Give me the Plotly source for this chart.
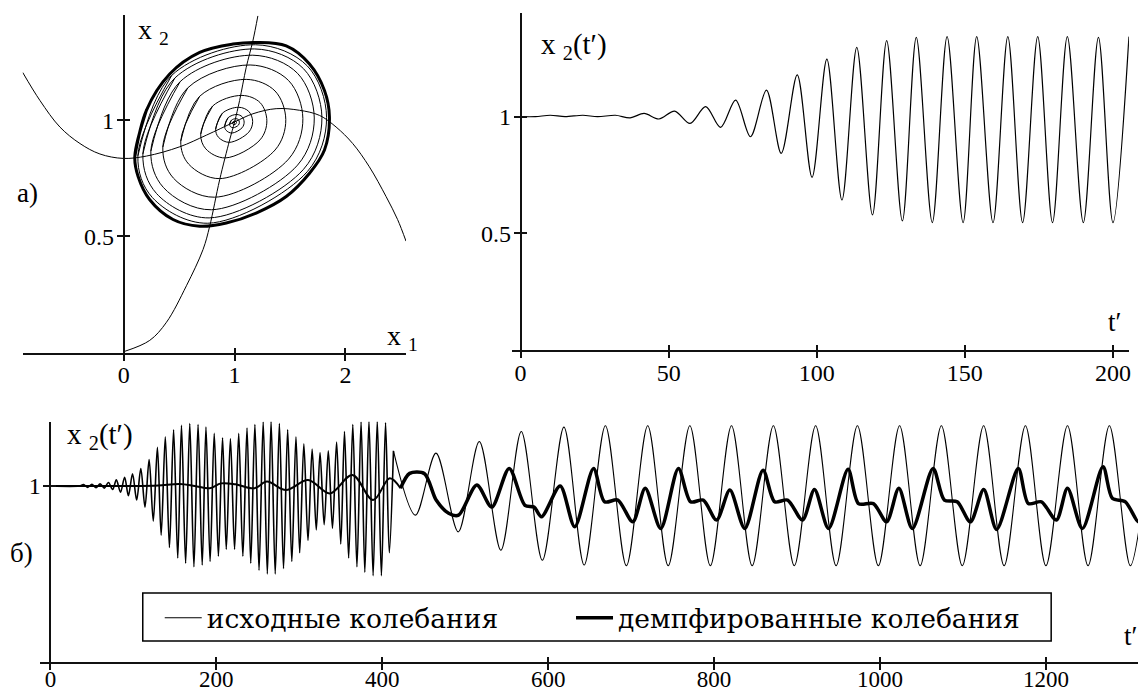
import plotly.graph_objects as go

W, H = 1146, 692
OX, OY = 8, 8   # page body margin in the browser

# ---------------- panel a): phase plane ----------------
null1_x1 = [-0.913, -0.757, -0.577, -0.396, -0.216, -0.006, 0.204, 0.505, 0.745, 1.0, 1.165,
            1.375, 1.586, 1.766, 1.916, 2.066, 2.216, 2.367, 2.471, 2.547]
null1_x2 = [1.206, 1.085, 0.971, 0.9, 0.855, 0.836, 0.846, 0.886, 0.936, 0.993, 1.028,
            1.05, 1.043, 1.021, 0.971, 0.9, 0.8, 0.672, 0.573, 0.48]
null2_x1 = [0.009, 0.234, 0.385, 0.565, 0.715, 0.775, 0.865, 0.955, 1.0, 1.045, 1.105, 1.165, 1.21]
null2_x2 = [0.006, 0.053, 0.131, 0.288, 0.444, 0.544, 0.744, 0.915, 0.993, 1.085, 1.228, 1.342, 1.449]

# inner turns of the trajectory (each turn: left, upper-left, top, upper-right, right,
# lower-right, bottom, lower-left, then back through left and upper-left)
spiral_x1 = [0.982, 0.988, 1.004, 1.014, 1.017, 1.014, 0.995, 0.985, 0.982, 0.988, None,
             0.955, 0.971, 1.010, 1.034, 1.043, 1.034, 0.988, 0.962, 0.955, 0.971, None,
             0.91, 0.941, 1.02, 1.068, 1.086, 1.068, 0.975, 0.923, 0.91, 0.941, None,
             0.829, 0.889, 1.037, 1.128, 1.163, 1.128, 0.953, 0.854, 0.829, 0.889, None,
             0.694, 0.801, 1.066, 1.23, 1.291, 1.23, 0.915, 0.740, 0.694, 0.801, None,
             0.514, 0.684, 1.105, 1.365, 1.462, 1.365, 0.865, 0.586, 0.514, 0.684, None,
             0.352, 0.578, 1.14, 1.487, 1.616, 1.487, 0.82, 0.448, 0.352, 0.578, None,
             0.244, 0.508, 1.164, 1.568, 1.719, 1.568, 0.79, 0.357, 0.244, 0.508, None,
             0.172, 0.461, 1.179, 1.622, 1.788, 1.622, 0.77, 0.295, 0.172, 0.461, None,
             0.127, 0.432, 1.189, 1.656, 1.83, 1.656, 0.758, 0.257, 0.127, 0.432]
spiral_x2 = [0.987, 0.994, 0.997, 0.995, 0.99, 0.986, 0.981, 0.983, 0.987, 0.994, None,
             0.983, 1.0, 1.007, 1.003, 0.991, 0.979, 0.968, 0.973, 0.983, 1.0, None,
             0.975, 1.011, 1.025, 1.015, 0.992, 0.968, 0.945, 0.957, 0.975, 1.011, None,
             0.962, 1.03, 1.056, 1.038, 0.995, 0.949, 0.905, 0.927, 0.962, 1.03, None,
             0.94, 1.061, 1.107, 1.076, 0.998, 0.916, 0.838, 0.877, 0.94, 1.061, None,
             0.911, 1.103, 1.176, 1.126, 1.003, 0.872, 0.749, 0.811, 0.911, 1.103, None,
             0.884, 1.14, 1.238, 1.171, 1.007, 0.833, 0.669, 0.751, 0.884, 1.14, None,
             0.867, 1.166, 1.28, 1.202, 1.01, 0.807, 0.615, 0.711, 0.867, 1.166, None,
             0.855, 1.182, 1.307, 1.222, 1.012, 0.789, 0.58, 0.685, 0.855, 1.182, None,
             0.847, 1.193, 1.325, 1.234, 1.013, 0.779, 0.557, 0.668, 0.847, 1.193]

limit_x1 = [0.099, 0.204, 0.414, 0.685, 0.985, 1.195, 1.466, 1.676, 1.811, 1.856,
            1.811, 1.676, 1.466, 1.195, 0.925, 0.685, 0.444, 0.234, 0.129, 0.099, 0.204]
limit_x2 = [0.843, 1.043, 1.199, 1.292, 1.328, 1.335, 1.32, 1.242, 1.128, 1.014,
            0.872, 0.772, 0.672, 0.601, 0.558, 0.544, 0.573, 0.658, 0.758, 0.843, 1.043]

# ---------------- top right: x2(t') ----------------
tr_t = [0, 5, 10, 15, 21, 26, 32, 37, 41.7, 46.7, 52, 57.2, 62.5, 67.5, 72.6, 77.6, 83, 88,
        93.4, 98.4, 103.4, 108.5, 113.5, 118.8, 123.6, 128.9, 133.6, 139, 144, 149.4, 154,
        159.5, 164.5, 169.5, 174.6, 179.6, 184.6, 190, 195.1, 200, 205.4]
tr_x2 = [1, 1, 1.006, 1.0, 1.006, 1.0, 1.006, 0.995, 1.014, 0.99, 1.024, 0.971, 1.043, 0.954,
         1.071, 0.914, 1.114, 0.843, 1.179, 0.74, 1.247, 0.643, 1.297, 0.579, 1.326, 0.553,
         1.34, 0.546, 1.343, 0.546, 1.343, 0.546, 1.343, 0.546, 1.343, 0.546, 1.343, 0.546,
         1.34, 0.546, 1.343]

# ---------------- bottom б): original and damped ----------------
b_orig_t = [0, 35,
            40, 45, 50, 55, 60, 65, 70, 75,
            79.5, 84.5, 89.5, 94,
            99, 104, 109, 114, 119, 124,
            129, 133.5, 138.5, 143.5, 148.5, 153.5,
            158, 163, 168, 173, 178, 183,
            187.5, 192.5, 197.5, 202.5, 207.5, 212,
            217, 222, 227, 232, 237, 241.5,
            246.5, 251.5, 256.5, 261.5, 266, 271,
            276, 281, 286, 291, 296, 300.5,
            305.5, 310.5, 315.5, 320.5, 325, 330,
            335, 340, 345, 350, 354.5, 359.5,
            364.5, 369.5, 374.5, 379, 384, 389,
            394, 399, 404, 408.5, 413.5,
            440, 464.8, 491.6, 517, 543, 567.6, 593, 619, 643.4,
            669, 694.3, 720, 744.7, 770.8, 795.5, 821, 845.9, 871.5, 896.7,
            922.4, 947.1, 972.8, 998, 1023.6, 1048.4, 1074, 1099.2, 1124.9, 1149.6,
            1175.3, 1200, 1226, 1250.8, 1276.5, 1301.7,
            1318]
b_orig_x2 = [1, 1,
             1.008, 0.992, 1.01, 0.99, 1.012, 0.988, 1.02, 0.98,
             1.035, 0.965, 1.05, 0.945,
             1.07, 0.92, 1.1, 0.88, 1.15, 0.8,
             1.22, 0.72, 1.28, 0.65, 1.32, 0.59,
             1.345, 0.56, 1.355, 0.54, 1.35, 0.55,
             1.335, 0.57, 1.3, 0.6, 1.275, 0.64,
             1.27, 0.64, 1.3, 0.6, 1.33, 0.56,
             1.35, 0.52, 1.365, 0.5, 1.37, 0.5,
             1.355, 0.53, 1.32, 0.57, 1.28, 0.62,
             1.24, 0.69, 1.21, 0.75, 1.19, 0.78,
             1.2, 0.76, 1.25, 0.67, 1.31, 0.59,
             1.35, 0.54, 1.365, 0.51, 1.37, 0.49,
             1.37, 0.49, 1.36, 0.62, 1.2,
             0.834, 1.187, 0.739, 1.253, 0.634, 1.31, 0.577, 1.335, 0.55,
             1.343, 0.546, 1.343, 0.546, 1.343, 0.546, 1.343, 0.546, 1.343, 0.546,
             1.343, 0.546, 1.343, 0.546, 1.343, 0.546, 1.343, 0.546, 1.343, 0.546,
             1.343, 0.546, 1.343, 0.546, 1.343, 0.546,
             0.95]
ORIG_SWITCH_T = 413.5

b_damp_t = [0, 100, 130, 156, 174, 192, 205.6, 223, 246, 261, 284, 310.6, 337, 364, 389, 409, 422,
            433, 451, 465, 480, 492, 514, 532, 553, 572, 583, 592, 614.5, 632, 654.7, 668, 684,
            702, 717, 735.7, 757, 771.7, 787, 803, 819, 837, 859, 873, 888.6, 906.6, 921, 938,
            961.5, 974, 992, 1008, 1022.7, 1039, 1064, 1077.6, 1093, 1109, 1125, 1140.6, 1166.7,
            1178.8, 1194.6, 1212.6, 1226, 1244, 1268.8, 1280, 1295.8, 1311.6, 1318]
b_damp_x2 = [1.0, 1.0, 1.003, 1.011, 1.0, 0.987, 1.015, 1.01, 0.987, 1.025, 0.977, 1.034, 0.958,
             1.063, 0.92, 1.044, 0.987, 1.072, 1.07, 0.92, 0.845, 0.834, 1.006, 0.88, 1.10, 0.89,
             0.88, 0.825, 1.0, 0.768, 1.10, 0.91, 0.92, 0.796, 0.987, 0.758, 1.10, 0.91, 0.92,
             0.806, 0.977, 0.758, 1.09, 0.91, 0.92, 0.806, 0.98, 0.758, 1.095, 0.90, 0.90, 0.796,
             0.987, 0.758, 1.10, 0.92, 0.91, 0.796, 0.98, 0.753, 1.10, 0.90, 0.91, 0.806, 0.987,
             0.758, 1.11, 0.93, 0.91, 0.796, 0.86]
DAMP_SWITCH_T = 422

legend_names = ["исходные колебания", "демпфированные колебания"]

# ---------------- layout geometry (screen pixels) ----------------
panels = {
    "a": ([-0.913, 2.547], [0, 1.453], 22.7, 406.7, 352.7, 15, [0, 1, 2], [0.5, 1], 0),
    "tr": ([-3, 205.4], [0, 1.446], 512.6, 1130.9, 350, 12.6, [0, 50, 100, 150, 200], [0.5, 1], 0),
    "b": ([-12, 1318], [0, 1.366], 40.5, 1145.8, 661.7, 421.7,
          [0, 200, 400, 600, 800, 1000, 1200], [1], -4),
}
# main axis id, inner-tick overlay id, outer-tick overlay id
axis_ids = {"a": ("", "4", "7"), "tr": ("2", "5", "8"), "b": ("3", "6", "9")}

def pxx(X):
    return (X - OX) / W

def pyy(Y):
    return 1 - (Y - OY) / H

LINEC = "#111111"
BLK = "black"

fig = go.Figure()

def tr(x, y, ax, width, name=None, legend=None, smoothing=1.0):
    kw = {}
    if legend:
        kw["legend"] = legend
    fig.add_trace(go.Scatter(
        x=x, y=y, mode="lines", name=name, showlegend=bool(legend), connectgaps=False,
        line=dict(color=BLK, width=width, shape="spline", smoothing=smoothing),
        xaxis="x" + ax, yaxis="y" + ax, hoverinfo="skip", **kw))

# panel a
tr(null1_x1, null1_x2, "", 1)
tr(null2_x1, null2_x2, "", 1)
tr(spiral_x1, spiral_x2, "", 1, smoothing=1.0)
tr(limit_x1, limit_x2, "", 3, smoothing=1.0)
# top right
tr(tr_t, tr_x2, "2", 1.2, smoothing=0.9)
# bottom
j = b_orig_t.index(ORIG_SWITCH_T)
tr(b_orig_t[:j + 1], b_orig_x2[:j + 1], "3", 1.6, smoothing=0.9)
tr(b_orig_t[j:], b_orig_x2[j:], "3", 1.1, name=legend_names[0], legend="legend", smoothing=0.9)
k = b_damp_t.index(DAMP_SWITCH_T)
tr(b_damp_t[:k + 1], b_damp_x2[:k + 1], "3", 2)
tr(b_damp_t[k:], b_damp_x2[k:], "3", 3.5, name=legend_names[1], legend="legend2", smoothing=0.8)

layout_axes = {}
for key, (xr, yr, pl, pr, pb, pt, xt, yt, xstand) in panels.items():
    main, inner, outer = axis_ids[key]
    xdom = [pxx(pl), pxx(pr)]
    ydom = [pyy(pb), pyy(pt)]
    x0px = pl + (0 - xr[0]) / (xr[1] - xr[0]) * (pr - pl)
    ypos = pxx(x0px)
    common = dict(showgrid=False, zeroline=False, fixedrange=True)
    xfont = dict(family="Liberation Serif", size=24 if xstand == 0 else 23, color="black")
    layout_axes["xaxis" + main] = dict(
        domain=xdom, range=xr, anchor="y" + main, tickvals=xt, ticktext=[str(v) for v in xt],
        ticks="", ticklabelstandoff=xstand, showline=True, linewidth=1.8, linecolor=LINEC,
        tickfont=xfont, **common)
    layout_axes["yaxis" + main] = dict(
        domain=ydom, range=yr, anchor="free", position=ypos, tickvals=yt,
        ticktext=[("%g" % v) for v in yt], ticks="", ticklabelstandoff=4,
        showline=True, linewidth=1.8, linecolor=LINEC,
        tickfont=dict(family="Liberation Serif", size=24, color="black"), **common)
    for oid, side, ln in ((inner, "inside", 5), (outer, "outside", 7)):
        layout_axes["xaxis" + oid] = dict(
            domain=xdom, range=xr, anchor="y" + oid, overlaying="x" + main, tickvals=xt,
            ticks=side, ticklen=ln, tickwidth=1.6, tickcolor=LINEC, showticklabels=False,
            showline=False, **common)
        layout_axes["yaxis" + oid] = dict(
            domain=ydom, range=yr, anchor="free", position=ypos, overlaying="y" + main,
            tickvals=yt, ticks=side, ticklen=ln, tickwidth=1.6, tickcolor=LINEC,
            showticklabels=False, showline=False, **common)
        fig.add_trace(go.Scatter(x=[None], y=[None], xaxis="x" + oid, yaxis="y" + oid,
                                 showlegend=False, hoverinfo="skip"))

LBL = dict(family="Liberation Serif", size=28, color="black")

def ann(text, X, Y, xanchor="left", size=None, family=None):
    f = dict(LBL)
    if size:
        f["size"] = size
    if family:
        f["family"] = family
    return dict(text=text, x=pxx(X), y=pyy(Y), xref="paper", yref="paper",
                xanchor=xanchor, yanchor="middle", showarrow=False, font=f)

annotations = [
    ann("x <sub>2</sub>", 136, 32),
    ann("x <sub>1</sub>", 386, 337),
    ann("a)", 28, 193, xanchor="center", size=27),
    ann("x <sub>2</sub>(t′)", 540, 46, size=29),
    ann("t′", 1116, 322, xanchor="center", size=27),
    ann("x <sub>2</sub>(t′)", 65, 436, size=29),
    ann("б)", 22, 553, xanchor="center", size=27),
    ann("t′", 1132, 636, xanchor="center", size=27),
]

LEGFONT = dict(family="DejaVu Serif", size=26.5, color="black")
legend_common = dict(orientation="h", xanchor="left", yanchor="top", borderwidth=0,
                     bgcolor="rgba(0,0,0,0)", font=LEGFONT, itemwidth=37)

# legend frame
shapes = [dict(type="rect", xref="paper", yref="paper", x0=pxx(143), x1=pxx(1053),
               y0=pyy(641), y1=pyy(593), line=dict(color="black", width=1.5),
               fillcolor="white", layer="below")]

fig.update_layout(
    width=W, height=H, autosize=False,
    margin=dict(l=0, r=0, t=0, b=0, pad=0),
    paper_bgcolor="white", plot_bgcolor="rgba(0,0,0,0)",
    showlegend=True,
    legend=dict(x=pxx(160), y=pyy(594), **legend_common),
    legend2=dict(x=pxx(572), y=pyy(594), **legend_common),
    annotations=annotations,
    shapes=shapes,
    **layout_axes,
)

fig.write_html("out.html")
